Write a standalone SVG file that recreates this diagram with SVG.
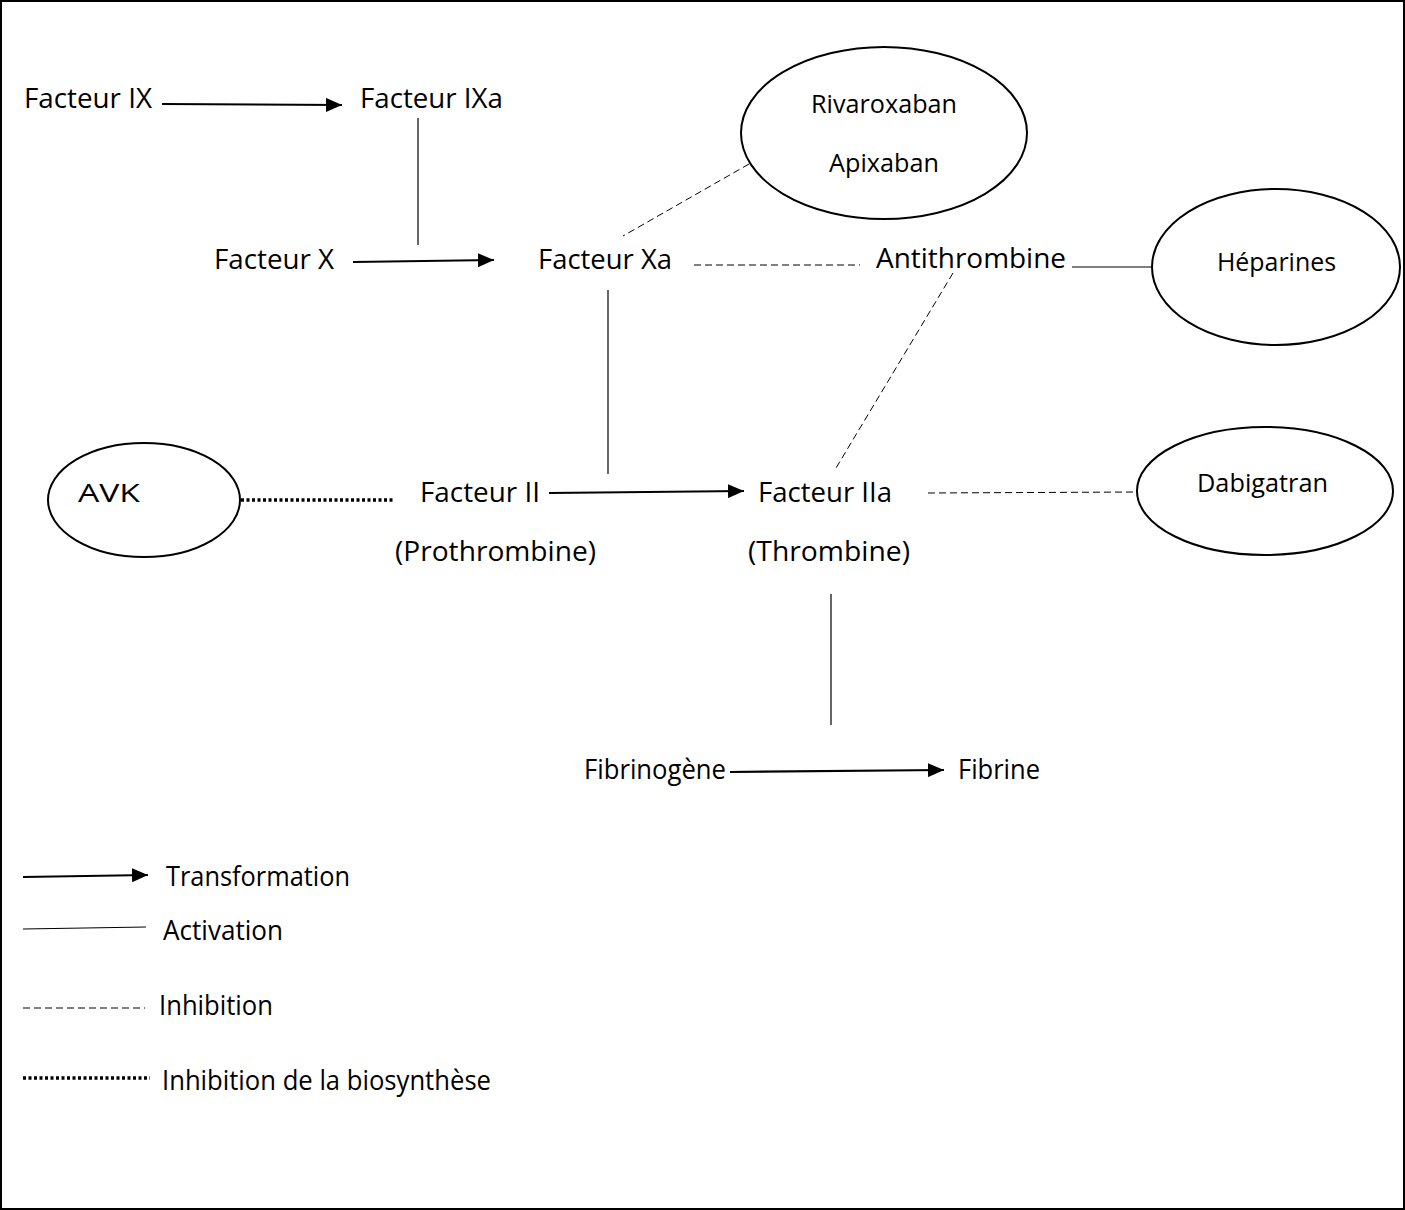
<svg xmlns="http://www.w3.org/2000/svg" width="1405" height="1210" viewBox="0 0 1405 1210">
<style>
text{font-family:"Open Sans","Liberation Sans",sans-serif;font-size:27px;fill:#000}
.s{font-size:26px}
.arr{stroke:#000;stroke-width:2.2;fill:none;marker-end:url(#ah)}
.act{stroke:#000;stroke-width:1.2;fill:none}
.inh{stroke:#000;stroke-width:1;fill:none;stroke-dasharray:7 4}
.bio{stroke:#000;stroke-width:3.5;fill:none;stroke-dasharray:3 2.5}
ellipse{fill:#fff;stroke:#000;stroke-width:2}
</style>
<defs>
<marker id="ah" markerUnits="userSpaceOnUse" markerWidth="16" markerHeight="14" refX="16" refY="7" orient="auto">
<path d="M0,0 L16,7 L0,14 Z" fill="#000"/>
</marker>
</defs>
<rect x="1" y="1" width="1403" height="1208" fill="#fff" stroke="#000" stroke-width="2"/>
<g id="connectors">
<line class="arr" x1="162" y1="104" x2="342" y2="105"/>
<line class="act" x1="418" y1="118" x2="418" y2="245"/>
<line class="arr" x1="353" y1="262" x2="494" y2="260"/>
<line class="inh" x1="749" y1="164" x2="623" y2="236"/>
<line class="inh" x1="694" y1="265" x2="860" y2="265"/>
<line class="act" x1="1072" y1="267" x2="1153" y2="267"/>
<line class="inh" x1="953" y1="273" x2="836" y2="468"/>
<line class="act" x1="608" y1="290" x2="608" y2="474"/>
<line class="bio" x1="241" y1="500" x2="393" y2="500"/>
<line class="arr" x1="549" y1="493" x2="744" y2="491"/>
<line class="inh" x1="928" y1="493" x2="1137" y2="492"/>
<line class="act" x1="831" y1="594" x2="831" y2="725"/>
<line class="arr" x1="730" y1="772" x2="944" y2="770"/>
</g>
<g id="n-fix"><text x="24" y="108" textLength="128" lengthAdjust="spacingAndGlyphs">Facteur IX</text></g>
<g id="n-fixa"><text x="360" y="108" textLength="143" lengthAdjust="spacingAndGlyphs">Facteur IXa</text></g>
<g id="n-riva"><ellipse cx="884" cy="133" rx="143" ry="86"/>
<text class="s" x="811" y="113" textLength="146" lengthAdjust="spacingAndGlyphs">Rivaroxaban</text>
<text class="s" x="829" y="172" textLength="110" lengthAdjust="spacingAndGlyphs">Apixaban</text></g>
<g id="n-fx"><text x="214" y="269" textLength="120" lengthAdjust="spacingAndGlyphs">Facteur X</text></g>
<g id="n-fxa"><text x="538" y="269" textLength="134" lengthAdjust="spacingAndGlyphs">Facteur Xa</text></g>
<g id="n-at"><text x="876" y="268" textLength="190" lengthAdjust="spacingAndGlyphs">Antithrombine</text></g>
<g id="n-hep"><ellipse cx="1276" cy="267" rx="124" ry="78"/>
<text class="s" x="1217" y="271" textLength="119" lengthAdjust="spacingAndGlyphs">Héparines</text></g>
<g id="n-avk"><ellipse cx="144" cy="500" rx="96" ry="57"/>
<text class="s" x="78" y="502" textLength="62" lengthAdjust="spacingAndGlyphs">AVK</text></g>
<g id="n-fii"><text x="420" y="502" textLength="120" lengthAdjust="spacingAndGlyphs">Facteur II</text>
<text x="395" y="561" textLength="201" lengthAdjust="spacingAndGlyphs">(Prothrombine)</text></g>
<g id="n-fiia"><text x="758" y="502" textLength="134" lengthAdjust="spacingAndGlyphs">Facteur IIa</text>
<text x="748" y="561" textLength="162" lengthAdjust="spacingAndGlyphs">(Thrombine)</text></g>
<g id="n-dabi"><ellipse cx="1265" cy="491" rx="128" ry="64"/>
<text class="s" x="1197" y="492" textLength="131" lengthAdjust="spacingAndGlyphs">Dabigatran</text></g>
<g id="n-fibgen"><text x="584" y="779" textLength="142" lengthAdjust="spacingAndGlyphs">Fibrinogène</text></g>
<g id="n-fib"><text x="958" y="779" textLength="82" lengthAdjust="spacingAndGlyphs">Fibrine</text></g>
<g id="legend">
<line class="arr" x1="23" y1="877" x2="148" y2="875"/>
<text x="166" y="886" textLength="184" lengthAdjust="spacingAndGlyphs">Transformation</text>
<line class="act" x1="23" y1="929" x2="146" y2="927"/>
<text x="163" y="940" textLength="120" lengthAdjust="spacingAndGlyphs">Activation</text>
<line class="inh" x1="23" y1="1008" x2="145" y2="1008"/>
<text x="159" y="1015" textLength="114" lengthAdjust="spacingAndGlyphs">Inhibition</text>
<line class="bio" x1="23" y1="1078" x2="150" y2="1078"/>
<text x="162" y="1090" textLength="329" lengthAdjust="spacingAndGlyphs">Inhibition de la biosynthèse</text>
</g>
</svg>
